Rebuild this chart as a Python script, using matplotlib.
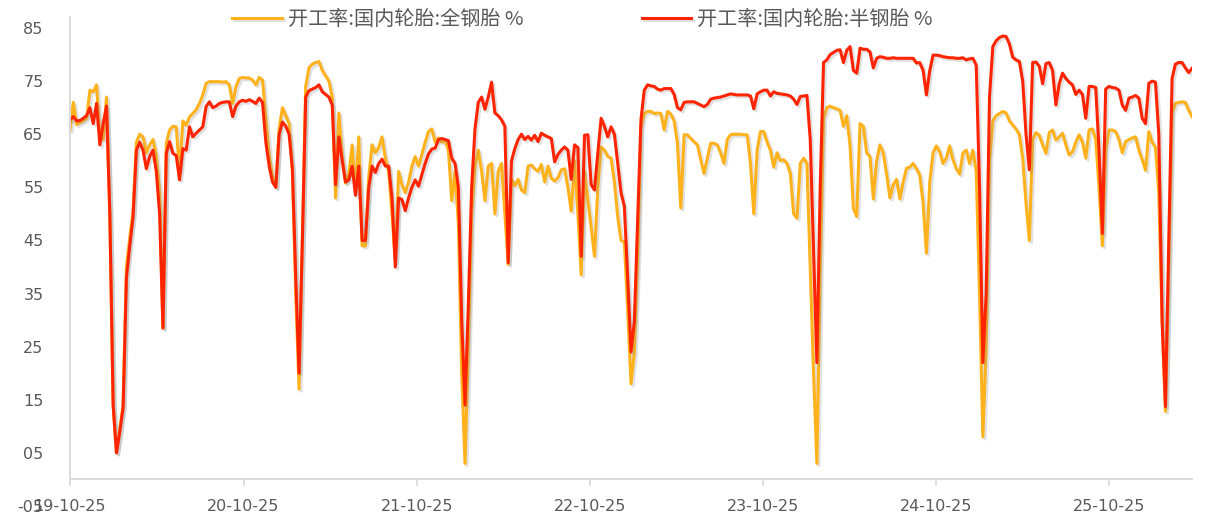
import matplotlib
matplotlib.use("Agg")
import matplotlib.pyplot as plt
import matplotlib.dates as mdates
import matplotlib.patheffects as pe
import numpy as np
import pandas as pd

plt.rcParams['font.family'] = ['Noto Sans CJK SC', 'DejaVu Sans']

# weekly readings, first week 2019-10-25
start_date = "2019-10-25"

# 开工率:国内轮胎:全钢胎 %
all_steel = [
    # 2019-10 .. 2020-10
    65.8, 71, 66.8, 67.2, 67.5, 68, 73.3, 73, 74.3, 64.5,
    64, 72, 50, 14, 5, 9.5, 14, 40, 45.5, 50.5,
    63.5, 65, 64.5, 61.5, 63, 64, 61, 54, 28.5, 63.3,
    65.8, 66.5, 66.4, 58, 67.5, 66.7, 68.3, 68.9, 69.6, 70.8,
    72.4, 74.6, 74.9, 74.9, 74.9, 74.9, 74.8, 74.9, 74.3, 70.8,
    74, 75.5, 75.7,
    # 2020-10 .. 2021-10
    75.6, 75.6, 75.2, 74.3, 75.7, 75.2, 68, 61, 57, 55,
    66, 70, 68.5, 67, 58, 35, 17, 45, 74, 77.5,
    78.2, 78.5, 78.7, 77, 76, 75, 72, 53, 69, 61,
    55.8, 57.5, 63, 54, 64.5, 44, 44, 57, 63, 61.5,
    62.5, 64.5, 60.5, 58, 50, 41, 58, 55.5, 54, 56,
    59,
    # 2021-10 .. 2022-10
    60.8, 59, 61.2, 63.5, 65.5, 66, 63.5, 64.3, 63.5, 63.8,
    62, 52.5, 58, 48, 20, 3, 25, 50, 59, 62,
    58, 52.5, 59, 59.5, 50, 58, 59.5, 50, 40.5, 56.5,
    55.3, 56.5, 54.5, 54, 59, 59.2, 58.5, 58, 59.3, 56,
    59, 56.7, 56.2, 56.8, 58.3, 58.5, 55, 50.5, 60, 50,
    38.5, 58,
    # 2022-10 .. 2023-10
    52.5, 47.6, 42, 55, 62.6, 62, 60.8, 60.5, 56, 49.5,
    45, 44.7, 32, 18, 23.8, 42, 66.4, 68.9, 69.3, 69.3,
    68.9, 69, 68.9, 65.8, 69.3, 68.8, 67.5, 63.3, 51.1, 64.9,
    64.9, 64.2, 63.6, 63, 60.2, 57.6, 60.5, 63.3, 63.3, 63,
    61.5, 59.5, 64, 64.9, 65, 65, 65, 64.9, 64.9, 59.5,
    50, 62, 65.5,
    # 2023-10 .. 2024-10
    65.5, 63.5, 62, 58.8, 61.5, 60, 60.2, 59.5, 57.6, 50,
    49.2, 59.5, 60.5, 59.5, 40, 20, 3, 40, 68, 70,
    70.3, 70, 69.8, 69.5, 66.5, 68.5, 62.8, 51, 49.5, 67,
    66.5, 61.5, 60.8, 52.8, 60, 63, 61.5, 57.5, 53, 55.5,
    56.5, 52.8, 56, 58.6, 58.8, 59.5, 58.5, 57.3, 52, 42.6,
    56, 61.5, 62.8, 61.7,
    # 2024-10 .. 2025-08
    59.5, 60.5, 62.8, 60.2, 58.5, 57.5, 61.5, 62, 59.5, 62,
    58, 35, 8, 25, 60, 67.5, 68.5, 68.9, 69.3, 69,
    67.5, 66.7, 66, 64.9, 60.5, 52, 45, 64, 65.3, 64.8,
    63, 61.4, 65.3, 65.8, 63.9, 64.5, 65.2, 63, 61.1, 61.7,
    63.5, 64.9,
    # 2025-08 .. 2026-04
    63.5, 60.5, 65.8, 66, 64, 55, 44, 62, 65.8, 65.8,
    65.5, 64, 61.5, 63.6, 64, 64.3, 64.5, 62, 60.2, 58.2,
    65.5, 63.5, 62.5, 54, 30, 12.8, 40, 69, 70.8, 71,
    71.1, 71, 69.5, 68.3,
]

# 开工率:国内轮胎:半钢胎 %
semi_steel = [
    # 2019-10 .. 2020-10
    67.7, 68.3, 67.5, 67.6, 68, 68.5, 70, 67, 70.8, 63,
    67, 70.3, 50, 14, 5, 9, 13.5, 38, 44, 49.5,
    62, 63.5, 62, 58.5, 60.8, 62, 58, 50, 28.5, 61.4,
    63.6, 61.4, 61, 56.4, 62.3, 62, 66.4, 64.5, 65.2, 65.8,
    66.4, 70.2, 71.1, 70, 70.3, 70.8, 71, 71.1, 71.1, 68.3,
    70.3, 71.1, 71.4,
    # 2020-10 .. 2021-10
    71.2, 71.5, 71.2, 70.8, 71.8, 71, 63.5, 59, 56, 55,
    65, 67.3, 66.5, 65, 58.5, 38, 20, 45, 72, 73.2,
    73.5, 73.8, 74.3, 73, 72.5, 72, 70.5, 55.5, 64.5, 60,
    56, 56.4, 59, 53.5, 59, 45, 45, 55, 59, 57.8,
    59.5, 60.3, 59, 59, 53, 40, 53, 52.7, 50.6, 53,
    55,
    # 2021-10 .. 2022-10
    56.4, 55.2, 57.4, 59.5, 61.3, 62.2, 62.4, 64, 64.2, 64,
    63.8, 60.5, 59.5, 55, 30, 14, 33, 55, 66, 71,
    72, 69.7, 72, 74.8, 69, 68.5, 67.7, 66.5, 40.8, 60,
    62.3, 64, 65, 64, 64.6, 63.9, 64.8, 63.6, 65.2, 64.8,
    64.5, 64.2, 59.8, 61.2, 62, 62.6, 62, 56.5, 63, 62.5,
    42, 64.8,
    # 2022-10 .. 2023-10
    64.9, 55.5, 54.5, 61.4, 68, 66.5, 64.5, 66.4, 65, 59.5,
    54, 51.4, 38, 24, 29.7, 48.9, 67.7, 73.3, 74.3, 74.1,
    74, 73.5, 73.3, 73.6, 73.6, 73.6, 72.5, 70, 69.6, 71,
    71.1, 71.1, 71.1, 70.8, 70.5, 70.2, 70.6, 71.6, 71.8, 71.9,
    72, 72.2, 72.4, 72.6, 72.5, 72.4, 72.4, 72.4, 72.4, 72.2,
    69.8, 72.6, 73,
    # 2023-10 .. 2024-10
    73.3, 73.3, 72.2, 73, 72.7, 72.6, 72.5, 72.4, 72.2, 71.6,
    70.6, 72.1, 72.2, 72.3, 64, 43, 22, 55, 78.5, 79,
    80, 80.4, 80.8, 80.9, 78.5, 80.8, 81.5, 77, 76.5, 81.2,
    81, 81, 80.5, 77.5, 79.3, 79.6, 79.5, 79.3, 79.3, 79.4,
    79.3, 79.3, 79.3, 79.3, 79.3, 79.3, 78.4, 78.5, 77, 72.4,
    77, 79.9, 79.9, 79.8,
    # 2024-10 .. 2025-08
    79.6, 79.5, 79.4, 79.4, 79.3, 79.3, 79.4, 79, 79.2, 79.3,
    78, 55, 22, 35, 72, 81.5, 82.6, 83.2, 83.5, 83.4,
    82, 79.5, 79, 78.7, 75, 65, 58.3, 78.5, 78.6, 77.8,
    74.5, 78.3, 78.5, 77, 70.5, 74.5, 76.5, 75.5, 74.8, 74.3,
    72.5, 73.3,
    # 2025-08 .. 2026-04
    72.5, 68, 74, 74, 73.8, 62, 46.3, 73.5, 74, 73.8,
    73.7, 73.3, 70.5, 69.5, 71.8, 72, 72.3, 71.8, 68, 67,
    74.6, 75, 74.8, 65, 30, 13.7, 45, 75.5, 78.2, 78.5,
    78.5, 77.5, 76.6, 77.4,
]

labels = ["开工率:国内轮胎:全钢胎 %", "开工率:国内轮胎:半钢胎 %"]
tick_dates = ["2019-10-25", "2020-10-25", "2021-10-25", "2022-10-25",
              "2023-10-25", "2024-10-25", "2025-10-25"]
y_ticks = [-5, 5, 15, 25, 35, 45, 55, 65, 75, 85]
y_labels = ["-05", "05", "15", "25", "35", "45", "55", "65", "75", "85"]

assert len(all_steel) == len(semi_steel)
dates = pd.date_range(start_date, periods=len(all_steel), freq="7D")

fig = plt.figure(figsize=(12.11, 5.18), dpi=100)
ax = fig.add_axes([0.0578, 0.0232, 0.9265, 0.9227])

shadow = [pe.SimpleLineShadow(offset=(1.5, -1.5), shadow_color="#888888", alpha=0.25), pe.Normal()]
ax.plot(dates, all_steel, color="#FFB21C", lw=2.2, label=labels[0], path_effects=shadow)
ax.plot(dates, semi_steel, color="#FF2400", lw=2.2, label=labels[1], path_effects=shadow)

ax.set_xlim(dates[0], dates[-1])
ax.set_ylim(-5, 85)
ax.set_yticks(y_ticks)
ax.set_yticklabels(y_labels)
ax.set_xticks(pd.to_datetime(tick_dates))
ax.xaxis.set_major_formatter(mdates.DateFormatter("%y-%m-%d"))

for s in ["top", "right"]:
    ax.spines[s].set_visible(False)
ax.spines["bottom"].set_position(("data", 0))
ax.spines["bottom"].set_color("#D9D9D9")
ax.spines["bottom"].set_linewidth(1.4)
ax.spines["left"].set_color("#D9D9D9")
ax.spines["left"].set_linewidth(1.4)
ax.spines["left"].set_bounds(0, 87)
ax.spines["left"].set_clip_on(False)

ax.tick_params(axis="y", length=0, pad=19, labelsize=11.5, labelcolor="#595959")
ax.tick_params(axis="x", length=5, width=1.2, color="#D9D9D9", direction="out",
               pad=9, labelsize=11.5, labelcolor="#595959")
for t in ax.get_xticklabels() + ax.get_yticklabels():
    t.set_fontfamily("DejaVu Sans")

leg = fig.legend(loc="center", bbox_to_anchor=(0.481, 0.963), ncol=2, frameon=False,
                 fontsize=14.5, handlelength=2.45, handletextpad=0.3, columnspacing=5.9)
for t in leg.get_texts():
    t.set_color("#595959")

fig.savefig("out.png", dpi=100)
